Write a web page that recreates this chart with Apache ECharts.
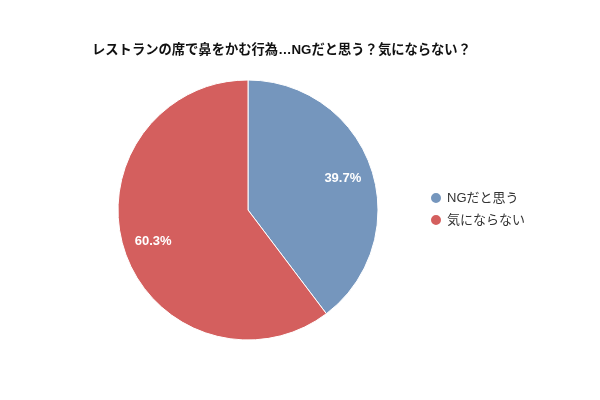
<!DOCTYPE html>
<html><head><meta charset="utf-8">
<script src="https://cdn.jsdelivr.net/npm/echarts@6/dist/echarts.min.js"></script>
<style>html,body{margin:0;padding:0;background:#fff}#c{width:600px;height:400px}</style>
</head><body><div id="c"></div>
<script>
const titleText = 'レストランの席で鼻をかむ行為…NGだと思う？気にならない？';
const categories = ['NGだと思う', '気にならない'];
const values = [39.7, 60.3];
const colors = ['#7596BD', '#D45F5E'];
const font = '"Liberation Sans", "Noto Sans CJK JP", sans-serif';

const chart = echarts.init(document.getElementById('c'));
chart.setOption({
  animation: false,
  title: { text: titleText, left: 87, top: 39,
    textStyle: { fontSize: 13.3, fontWeight: 'bold', color: '#111', fontFamily: font } },
  legend: { orient: 'vertical', left: 424, top: 186, itemGap: 8, icon: 'circle',
    itemWidth: 12, itemHeight: 12, data: categories,
    textStyle: { fontSize: 13, color: '#333', fontFamily: font } },
  series: [
    { type: 'pie', center: [248, 210], radius: [0, 130], startAngle: 90, clockwise: true,
      label: { show: false }, labelLine: { show: false },
      itemStyle: { borderColor: '#fff', borderWidth: 1 },
      data: categories.map((n, i) => ({ name: n, value: values[i], itemStyle: { color: colors[i] } })) },
    { type: 'pie', center: [248, 210], radius: [64, 130], startAngle: 90, clockwise: true, silent: true,
      legendHoverLink: false,
      label: { show: true, position: 'inside', color: '#fff', fontSize: 13, fontWeight: 'bold', fontFamily: font,
        formatter: p => p.value.toFixed(1) + '%' },
      labelLine: { show: false },
      itemStyle: { color: 'rgba(0,0,0,0)' },
      data: categories.map((n, i) => ({ name: n, value: values[i] })) }
  ]
});
</script></body></html>
